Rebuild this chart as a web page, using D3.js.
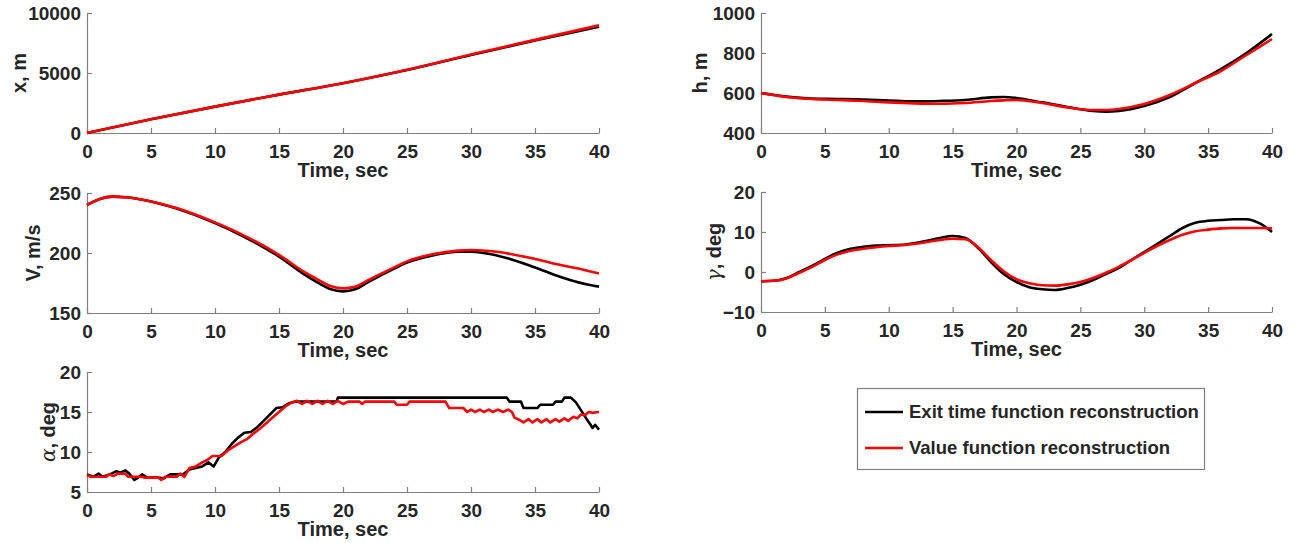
<!DOCTYPE html>
<html><head><meta charset="utf-8">
<script src="https://cdn.jsdelivr.net/npm/d3@7"></script>
<style>
body{margin:0;background:#fff;}
text{font-family:"Liberation Sans",Arial,Helvetica,sans-serif;font-weight:bold;fill:#262626;}
</style></head>
<body>
<svg id="c" width="1301" height="543"></svg>
<script>
// ---------- DATA ----------
const timeTicks = [0,5,10,15,20,25,30,35,40];
const seriesNames = ["Exit time function reconstruction","Value function reconstruction"];

// x, m
const xTime  = [0,5,10,15,20,25,30,35,40];
const xExit  = [0,1150,2200,3200,4150,5250,6500,7700,8850];
const xValue = [0,1150,2200,3200,4150,5270,6540,7760,8970];
const xTicks = [0,5000,10000];

// V, m/s
const vTime  = [0,1,2,3,5,7,10,12,15,17,18,19,20,21,22,24,25,27,29,30,32,35,37,39,40];
const vExit  = [240,245,247,246.5,243,237,225,215,197,182,175.5,170,168,170,176,187,192,198,201,201,198,188,180,174,172];
const vValue = [240,245,247,246.5,243,237.5,225.5,216,198.5,184,178,172.5,170.5,172,177.5,188,193,199,202,202.5,201,195,190,185.5,183];
const vTicks = [150,200,250];

// alpha, deg
const aExitTime = [0,0.5,0.9,1.2,1.8,2.3,2.6,3.0,3.3,3.7,4.0,4.3,4.7,5.5,6.0,6.5,7.5,8.0,8.5,9.0,9.5,9.9,10.3,10.8,11.3,11.8,12.3,12.8,13.3,13.8,14.3,14.8,15.3,15.8,16.3,19.5,19.6,32.8,33.0,33.9,34.1,35.2,35.4,36.4,36.6,37.1,37.3,37.8,38.2,38.6,39.0,39.3,39.5,39.7,40.0];
const aExit     = [7.2,6.9,7.3,6.9,7.2,7.6,7.4,7.7,7.3,6.5,6.8,7.2,6.8,6.8,6.7,7.2,7.2,7.8,8.0,8.2,8.7,8.2,9.3,10.0,11.0,11.8,12.4,12.5,13.1,13.9,14.7,15.5,15.6,16.1,16.3,16.3,16.8,16.8,16.3,16.3,15.5,15.5,15.9,15.9,16.3,16.3,16.8,16.8,16.2,15.2,14.2,13.5,13.0,13.4,12.8];
const aValueTime = [0,0.3,1.5,1.7,2.1,2.4,3.0,3.2,4.2,4.5,5.6,5.8,6.1,7.0,7.3,7.6,8.0,8.5,9.0,9.4,9.8,10.5,11.0,11.5,12.0,12.5,13.0,13.5,14.0,14.5,15.0,15.5,16.0,16.4,16.8,17.2,17.6,18.0,18.4,18.8,19.2,19.6,20.0,20.4,21.3,21.5,21.7,24.0,24.2,25.0,25.2,28.0,28.3,29.4,29.7,30.0,30.3,30.7,31.0,31.4,31.7,32.1,32.5,32.9,33.2,33.4,33.8,34.1,34.5,34.8,35.2,35.5,35.9,36.2,36.6,36.9,37.3,37.6,38.0,38.3,38.6,38.9,39.2,39.5,40.0];
const aValue     = [7.1,6.9,6.9,7.2,7.0,7.3,7.3,6.9,6.9,6.8,6.8,6.5,6.9,6.9,7.3,6.9,8.0,8.2,8.7,9.0,9.5,9.5,10.2,10.7,11.2,11.6,12.3,12.9,13.6,14.3,15.0,15.7,16.2,16.4,16.0,16.4,16.0,16.4,16.0,16.4,16.0,16.4,16.0,16.3,16.3,16.0,16.3,16.3,15.9,15.9,16.3,16.3,15.5,15.5,15.0,15.3,15.0,15.3,15.0,15.3,15.0,15.3,15.0,15.3,15.0,14.3,14.0,13.7,14.1,13.7,14.1,13.7,14.1,13.7,14.1,13.8,14.2,13.9,14.4,14.2,14.7,14.6,15.0,14.9,15.0];
const aTicks = [5,10,15,20];

// h, m
const hTime  = [0,2,4,6,8,10,12,14,16,18,19,20,22,24,26,27,28,30,32,34,36,38,40];
const hExit  = [600,582,572,570,567,562,558,560,565,578,580,575,553,530,510,507,510,535,580,650,720,800,895];
const hValue = [600,580,570,565,560,553,548,546,550,560,563,565,550,528,515,515,520,545,590,650,710,790,870];
const hTicks = [400,600,800,1000];

// gamma, deg
const gTime  = [0,1,2,3,4,5,6,7,8,9,10,11,12,13,14,15,16,17,18,19,20,21,22,23,24,25,26,27,28,29,30,31,32,33,34,35,36,37,38,39,40];
const gExit  = [-2.3,-2.2,-1.5,0,1.5,3.3,4.8,5.8,6.3,6.6,6.7,6.8,7.2,7.8,8.5,9.0,8.5,6.0,2.5,-0.5,-2.5,-3.8,-4.3,-4.5,-4.0,-3.2,-2.0,-0.5,1.0,3.0,5.0,7.0,9.0,11.0,12.3,12.8,13.0,13.2,13.2,12.2,10.0];
const gValue = [-2.3,-2.2,-1.6,-0.2,1.3,3.0,4.4,5.3,5.8,6.2,6.5,6.7,7.0,7.5,8.0,8.3,8.2,6.2,3.0,0.2,-1.8,-2.8,-3.3,-3.4,-3.1,-2.5,-1.5,-0.2,1.3,3.0,4.8,6.5,8.0,9.3,10.2,10.6,10.9,11.0,11.0,11.0,10.9];
const gTicks = [-10,0,10,20];

// ---------- LAYOUT ----------
const colors = ["#000000","#ff0000"];
const panels = [
  {l:87, r:599, t:13, b:133, dom:[0,10000], ticks:xTicks, label:"x, m", lx:19, smooth:true,
   series:[[xTime,xExit],[xTime,xValue]]},
  {l:87, r:599, t:193, b:313, dom:[150,250], ticks:vTicks, label:"V, m/s", lx:33, smooth:true,
   series:[[vTime,vExit],[vTime,vValue]]},
  {l:87, r:599, t:372, b:492, dom:[5,20], ticks:aTicks, label:"α", greek:true, lx:48, smooth:false,
   series:[[aExitTime,aExit],[aValueTime,aValue]]},
  {l:761, r:1272, t:13, b:133, dom:[400,1000], ticks:hTicks, label:"h, m", lx:700, smooth:true,
   series:[[hTime,hExit],[hTime,hValue]]},
  {l:761, r:1272, t:192, b:312, dom:[-10,20], ticks:gTicks, label:"γ", greek:true, lx:714, smooth:true,
   series:[[gTime,gExit],[gTime,gValue]]}
];

const svg = d3.select("#c");
const axisColor = "#808080";
const tickFont = 19, labelFont = 20;

panels.forEach(p => {
  const x = d3.scaleLinear().domain([0,40]).range([p.l,p.r]);
  const y = d3.scaleLinear().domain(p.dom).range([p.b,p.t]);
  const g = svg.append("g");

  const xa = g.append("g").attr("transform",`translate(0,${p.b})`)
    .call(d3.axisBottom(x).tickValues(timeTicks).tickFormat(d3.format("d")).tickSizeInner(-5).tickSizeOuter(0));
  const ya = g.append("g").attr("transform",`translate(${p.l},0)`)
    .call(d3.axisLeft(y).tickValues(p.ticks).tickFormat(d3.format("d")).tickSizeInner(-5).tickSizeOuter(0).tickPadding(6));
  [xa,ya].forEach(a=>{
    a.select(".domain").attr("stroke",axisColor).attr("stroke-width",1.2);
    a.selectAll(".tick line").attr("stroke",axisColor).attr("stroke-width",1.2);
    a.selectAll(".tick text").style("font-size",tickFont+"px").style("font-weight","bold")
      .attr("fill","#262626").style("font-family",'"Liberation Sans",Arial,sans-serif');
  });
  xa.selectAll(".tick text").attr("y",18).attr("dy","0.36em");
  ya.selectAll(".tick text").attr("dy","0.36em");

  g.append("text").attr("x",(p.l+p.r)/2).attr("y",p.b+37).attr("dy","0.36em")
    .attr("text-anchor","middle").style("font-size",labelFont+"px").text("Time, sec");

  const yl = g.append("text")
    .attr("transform",`translate(${p.lx},${(p.t+p.b)/2}) rotate(-90)`)
    .attr("text-anchor","middle").attr("dy","0.36em").style("font-size",labelFont+"px");
  if (p.greek) {
    yl.append("tspan").style("font-family",'"DejaVu Serif","Liberation Serif",serif')
      .style("font-style","italic").style("font-weight","normal").text(p.label);
    yl.append("tspan").text(", deg");
  } else {
    yl.text(p.label);
  }

  const line = d3.line().x(d=>x(d[0])).y(d=>y(d[1]))
    .curve(p.smooth ? d3.curveMonotoneX : d3.curveLinear);
  p.series.forEach((s,i)=>{
    const pts = s[0].map((t,k)=>[t,s[1][k]]);
    g.append("path").datum(pts).attr("d",line)
      .attr("fill","none").attr("stroke",colors[i]).attr("stroke-width",2.6)
      .attr("stroke-linejoin","round");
  });
});

// legend
const lg = svg.append("g");
lg.append("rect").attr("x",857.5).attr("y",388.5).attr("width",347).attr("height",81)
  .attr("fill","#fff").attr("stroke",axisColor).attr("stroke-width",1.2);
seriesNames.forEach((n,i)=>{
  const yy = 412 + i*36;
  lg.append("line").attr("x1",865).attr("x2",903).attr("y1",yy).attr("y2",yy)
    .attr("stroke",colors[i]).attr("stroke-width",2.6);
  lg.append("text").attr("x",909).attr("y",yy).attr("dy","0.35em")
    .style("font-size","18.5px").text(n);
});
</script>
</body></html>
